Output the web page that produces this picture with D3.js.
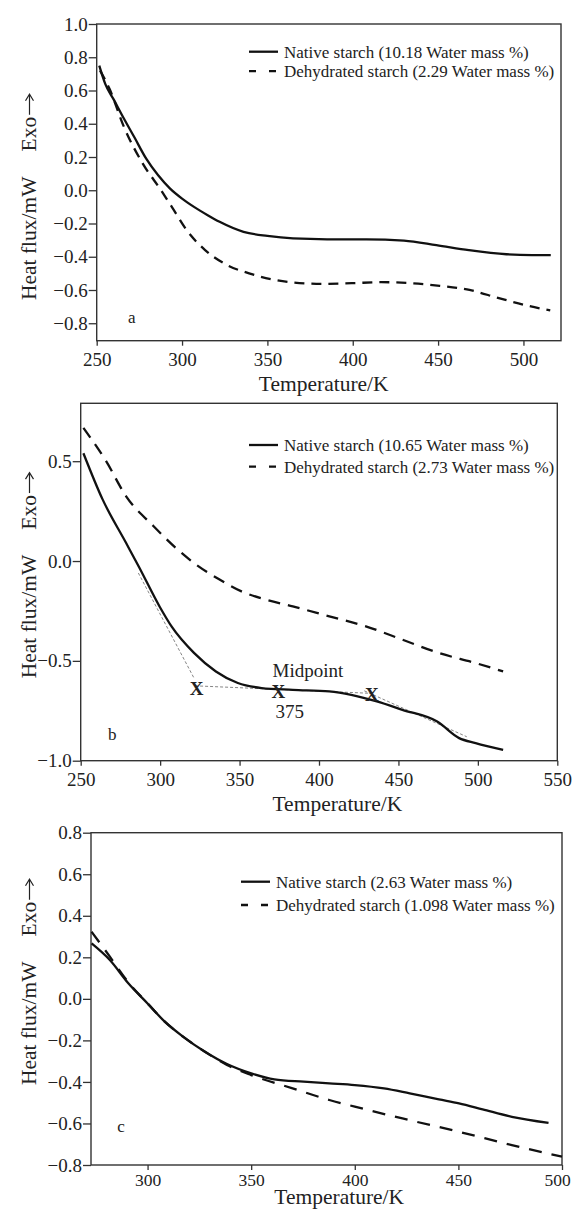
<!DOCTYPE html>
<html>
  <head>
    <meta charset="utf-8">
    <script src="https://cdnjs.cloudflare.com/ajax/libs/d3/7.8.5/d3.min.js"></script>
    <style>
      body { margin: 0; background: #fff; }
      text { font-family: "Liberation Serif", "Times New Roman", serif; fill: #222; }
    </style>
  </head>
  <body>
    <div id="vis"></div>
    <script type="text/javascript">

        // panel a : [temperature K, heat flux mW]
        const nativeA = [[251.5,0.75],[255,0.64],[260,0.545],[266,0.43],[272,0.32],[279,0.19],[286,0.09],
            [293,0.01],[300,-0.05],[307,-0.10],[315,-0.15],[322,-0.19],[336,-0.25],[350,-0.275],[365,-0.29],
            [385,-0.295],[408,-0.295],[430,-0.303],[449,-0.33],[468,-0.36],[490,-0.385],[505,-0.39],[516,-0.39]];
        const dehydA = [[252,0.72],[257.5,0.61],[266,0.38],[277,0.16],[287.7,0.0],[294,-0.10],[302.7,-0.24],
            [313.5,-0.36],[326.4,-0.45],[339.3,-0.50],[352.2,-0.535],[365,-0.555],[382.3,-0.563],[399.5,-0.559],
            [416.7,-0.553],[434,-0.559],[451,-0.575],[468.4,-0.60],[485.6,-0.649],[502.8,-0.695],[515.7,-0.723]];

        // panel b
        const nativeB = [[251.7,0.54],[263.7,0.31],[278.6,0.09],[286.7,-0.03],[299.8,-0.23],[307.4,-0.33],
            [321.3,-0.46],[335.1,-0.553],[348.9,-0.611],[363.9,-0.636],[383.5,-0.645],[406.5,-0.653],
            [420.3,-0.67],[436.4,-0.703],[452.5,-0.745],[474.4,-0.804],[488.2,-0.887],[498.6,-0.912],[515.9,-0.946]];
        const dehydB = [[251.7,0.667],[266,0.50],[278.6,0.324],[295.9,0.174],[309.8,0.066],[321.3,-0.01],
            [337.4,-0.093],[351.2,-0.152],[365,-0.19],[383.5,-0.227],[406.5,-0.277],[429.5,-0.327],
            [452.5,-0.394],[475.6,-0.461],[498.6,-0.511],[515.9,-0.553]];
        // onset / midpoint / endset construction lines and marks
        const tangentsB = [[[286.3,-0.06],[321.3,-0.586]], [[322,-0.625],[431,-0.662]], [[428.5,-0.65],[493,-0.88]]];
        const marksB = [[323,-0.636],[374.4,-0.653],[433.2,-0.67]];

        // panel c
        const nativeC = [[273,0.267],[281.8,0.187],[290.7,0.075],[300,-0.022],[308.3,-0.11],[317.1,-0.182],
            [327.7,-0.255],[338.3,-0.314],[350,-0.359],[361.2,-0.388],[375.3,-0.399],[387.7,-0.407],[400,-0.415],
            [414.1,-0.431],[426.5,-0.455],[440.6,-0.484],[450.3,-0.503],[461.7,-0.532],[475.8,-0.568],[493.5,-0.597]];
        const dehydC = [[273,0.323],[281.8,0.203],[290.7,0.08],[300,-0.022],[308.3,-0.11],[317.1,-0.182],
            [327.7,-0.255],[338.3,-0.318],[350,-0.367],[370,-0.431],[387.7,-0.487],[400,-0.519],[423,-0.576],
            [450.3,-0.64],[475.8,-0.704],[500,-0.76]];

        const ticksA_x = [250, 300, 350, 400, 450, 500];
        const ticksA_y = [-0.8, -0.6, -0.4, -0.2, 0.0, 0.2, 0.4, 0.6, 0.8, 1.0];
        const ticksB_x = [250, 300, 350, 400, 450, 500, 550];
        const ticksB_y = [-1.0, -0.5, 0.0, 0.5];
        const ticksC_x = [300, 350, 400, 450, 500];
        const ticksC_y = [-0.8, -0.6, -0.4, -0.2, 0.0, 0.2, 0.4, 0.6, 0.8];

        const legendA = ["Native starch (10.18 Water mass %)", "Dehydrated starch (2.29 Water mass %)"];
        const legendB = ["Native starch (10.65 Water mass %)", "Dehydrated starch (2.73 Water mass %)"];
        const legendC = ["Native starch (2.63 Water mass %)", "Dehydrated starch (1.098 Water mass %)"];

        const svg = d3.select("#vis")
            .append("svg")
            .attr("width", 574)
            .attr("height", 1214);

        function drawPanel(p) {
            const g = svg.append("g");
            const x = d3.scaleLinear().domain(p.xDomain).range([p.left, p.right]);
            const y = d3.scaleLinear().domain(p.yDomain).range([p.bottom, p.top]);

            const ax = g.append("g")
                .attr("transform", `translate(0,${p.bottom})`)
                .call(d3.axisBottom(x).tickValues(p.xTicks).tickSize(5).tickPadding(p.xPad).tickFormat(d3.format("d")));
            const ay = g.append("g")
                .attr("transform", `translate(${p.left},0)`)
                .call(d3.axisLeft(y).tickValues(p.yTicks).tickSize(8).tickPadding(1).tickFormat(d3.format(".1f")));
            [ax, ay].forEach(a => {
                a.select(".domain").remove();
                a.selectAll("line").attr("stroke", "#333").attr("stroke-width", 1.3);
                a.selectAll("text").attr("fill", "#222").attr("font-family", '"Liberation Serif", serif');
            });
            ax.selectAll("text").attr("font-size", p.xFont);
            ay.selectAll("text").attr("font-size", 19);
            if (p.lastShift) {
                ax.selectAll(".tick").filter((d, i, n) => i === n.length - 1)
                    .select("text").attr("dx", p.lastShift);
            }

            g.append("rect")
                .attr("x", p.left).attr("y", p.top)
                .attr("width", p.right - p.left).attr("height", p.bottom - p.top)
                .attr("fill", "none").attr("stroke", "#333").attr("stroke-width", 1.4);

            const line = d3.line().x(d => x(d[0])).y(d => y(d[1])).curve(d3.curveMonotoneX);

            if (p.tangents) {
                g.selectAll("line.tan").data(p.tangents).enter().append("line")
                    .attr("x1", d => x(d[0][0])).attr("y1", d => y(d[0][1]))
                    .attr("x2", d => x(d[1][0])).attr("y2", d => y(d[1][1]))
                    .attr("stroke", "#777").attr("stroke-width", 0.9).attr("stroke-dasharray", "3,2");
            }

            g.append("path").datum(p.dehyd).attr("d", line)
                .attr("fill", "none").attr("stroke", "#111").attr("stroke-width", 2.3)
                .attr("stroke-dasharray", p.dash);
            g.append("path").datum(p.native).attr("d", line)
                .attr("fill", "none").attr("stroke", "#111").attr("stroke-width", 2.3);

            if (p.marks) {
                g.selectAll("text.mark").data(p.marks).enter().append("text")
                    .attr("x", d => x(d[0])).attr("y", d => y(d[1]))
                    .attr("dy", "0.35em").attr("text-anchor", "middle")
                    .attr("font-size", 19).attr("font-weight", "bold").text("X");
                g.append("text").attr("x", 272.5).attr("y", 676.7).attr("font-size", 19).text("Midpoint");
                g.append("text").attr("x", 275.5).attr("y", 718.3).attr("font-size", 19).text("375");
            }

            // legend
            const lg = g.append("g");
            lg.append("line").attr("x1", p.legX).attr("x2", p.legX + 29)
                .attr("y1", p.legY).attr("y2", p.legY)
                .attr("stroke", "#111").attr("stroke-width", 2.3);
            lg.append("line").attr("x1", p.legX).attr("x2", p.legX + 28)
                .attr("y1", p.legY + p.legGap).attr("y2", p.legY + p.legGap)
                .attr("stroke", "#111").attr("stroke-width", 2.3).attr("stroke-dasharray", "7,13");
            lg.selectAll("text").data(p.legend).enter().append("text")
                .attr("x", p.legX + 35).attr("y", (d, i) => p.legY + 6 + i * p.legGap)
                .attr("font-size", 17).text(d => d);

            g.append("text").attr("x", p.letter[0]).attr("y", p.letter[1])
                .attr("font-size", 17).text(p.letterText);

            g.append("text").attr("x", p.xTitle[0]).attr("y", p.xTitle[1])
                .attr("text-anchor", "middle").attr("font-size", 21.5).text("Temperature/K");

            // y title, rotated, with a drawn arrow after "Exo"
            const yg = g.append("g").attr("transform", `translate(36,${p.yTitleStart}) rotate(-90)`);
            const yt = yg.append("text").attr("x", 0).attr("y", 0).attr("font-size", 21.5);
            yt.append("tspan").text("Heat flux/mW");
            yt.append("tspan").attr("dx", 25).text("Exo");
            const len = yt.node().getComputedTextLength() + 25;
            yg.append("line").attr("x1", len + 2).attr("x2", len + 22)
                .attr("y1", -6.5).attr("y2", -6.5)
                .attr("stroke", "#222").attr("stroke-width", 1.2);
            yg.append("path").attr("d", `M${len + 16},-10.5 L${len + 22.5},-6.5 L${len + 16},-2.5`)
                .attr("fill", "none").attr("stroke", "#222").attr("stroke-width", 1.2);
        }

        drawPanel({
            xDomain: [250, 522], yDomain: [-0.905, 1.0],
            left: 96.7, right: 561, top: 24, bottom: 340.7,
            xTicks: ticksA_x, yTicks: ticksA_y, xPad: 7, xFont: 19,
            native: nativeA, dehyd: dehydA, dash: "10,7",
            legend: legendA, legX: 249, legY: 51.7, legGap: 19.5,
            letter: [128, 323.3], letterText: "a",
            xTitle: [323.7, 390.7], yTitleStart: 300
        });

        drawPanel({
            xDomain: [250, 550], yDomain: [-1.0, 0.79],
            left: 80.7, right: 557.3, top: 403.3, bottom: 760.7,
            xTicks: ticksB_x, yTicks: ticksB_y, xPad: 7, xFont: 19,
            native: nativeB, dehyd: dehydB, dash: "12,8",
            tangents: tangentsB, marks: marksB,
            legend: legendB, legX: 249, legY: 445, legGap: 21.7,
            letter: [108, 740], letterText: "b",
            xTitle: [337.4, 811], yTitleStart: 678.3
        });

        drawPanel({
            xDomain: [272.7, 500], yDomain: [-0.8, 0.8],
            left: 91, right: 562, top: 832.7, bottom: 1165,
            xTicks: ticksC_x, yTicks: ticksC_y, xPad: 4, xFont: 17.5, lastShift: -5,
            native: nativeC, dehyd: dehydC, dash: "13,10",
            legend: legendC, legX: 241, legY: 881.7, legGap: 23.3,
            letter: [117.3, 1131.7], letterText: "c",
            xTitle: [339.2, 1204], yTitleStart: 1085
        });

    </script>
  </body>
</html>
